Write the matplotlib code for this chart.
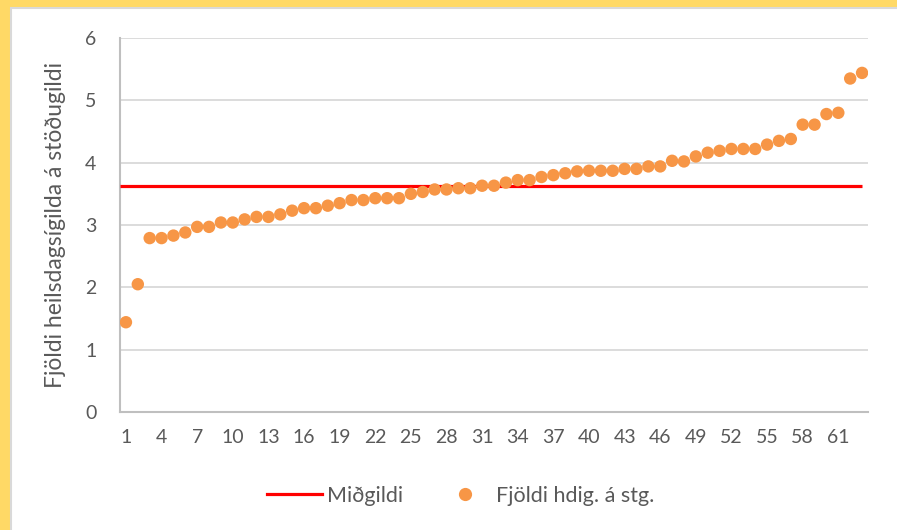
import matplotlib.pyplot as plt
from matplotlib.patches import Rectangle
from matplotlib.lines import Line2D

# values, sorted ascending (63 units)
stod = [1.44, 2.05, 2.79, 2.79, 2.83, 2.88, 2.97, 2.97, 3.04, 3.04,
        3.09, 3.13, 3.13, 3.17, 3.23, 3.27, 3.27, 3.31, 3.35, 3.40,
        3.40, 3.43, 3.43, 3.43, 3.50, 3.53, 3.57, 3.57, 3.59, 3.59,
        3.63, 3.63, 3.68, 3.72, 3.72, 3.77, 3.80, 3.83, 3.86, 3.87,
        3.87, 3.87, 3.90, 3.90, 3.94, 3.94, 4.03, 4.02, 4.10, 4.16,
        4.19, 4.22, 4.22, 4.22, 4.29, 4.35, 4.38, 4.61, 4.61, 4.78,
        4.80, 5.35, 5.44]
midgildi = 3.62
nr = list(range(1, len(stod) + 1))
xticks = list(range(1, 62, 3))
yticks = [0, 1, 2, 3, 4, 5, 6]

TXT = '#595959'
FONT = 'Lato'

fig = plt.figure(figsize=(8.97, 5.30), dpi=100)
fig.patch.set_facecolor('#FFD966')
# white panel inside the yellow frame
fig.patches.append(Rectangle((11 / 897, -0.01), 1.0, 1 - 8 / 530 + 0.01,
                             transform=fig.transFigure, facecolor='white',
                             edgecolor='#D9D9D9', linewidth=1.5, zorder=-5))

ax = fig.add_axes([120 / 897, 1 - 412 / 530, (868 - 120) / 897, (412 - 38) / 530])
ax.set_facecolor('none')

ax.plot([0.5, nr[-1]], [midgildi, midgildi], color='#FF0000', lw=2.3,
        solid_capstyle='butt', zorder=3)
ax.scatter(nr, stod, s=80, color='#F79646', edgecolors='none', zorder=4)

ax.set_xlim(0.5, len(stod) + 0.5)
ax.set_ylim(0, 6)
ax.set_xticks(xticks)
ax.set_yticks(yticks)
ax.tick_params(length=0, labelsize=14, labelcolor=TXT, pad=12)
for lab in ax.get_xticklabels() + ax.get_yticklabels():
    lab.set_fontfamily(FONT)
ax.tick_params(axis='y', pad=17)

ax.grid(axis='y', color='#D9D9D9', lw=1.3)
ax.set_axisbelow(True)
for s in ['top', 'right']:
    ax.spines[s].set_visible(False)
for s in ['left', 'bottom']:
    ax.spines[s].set_color('#BFBFBF')
    ax.spines[s].set_linewidth(1.5)

ax.set_ylabel('Fjöldi heilsdagsígilda á stöðugildi', fontsize=16.5,
              color=TXT, fontfamily=FONT, labelpad=14)

handles = [Line2D([], [], color='#FF0000', lw=2.3),
           Line2D([], [], marker='o', ls='none', color='#F79646',
                  markersize=9.5, markeredgewidth=0)]
leg = fig.legend(handles, ['Miðgildi', 'Fjöldi hdig. á stg.'],
                 loc='center', bbox_to_anchor=(461 / 897, 1 - 496 / 530),
                 ncol=2, frameon=False, handlelength=2.55, handletextpad=0.2,
                 columnspacing=1.6, prop={'family': FONT, 'size': 15.5})
for t in leg.get_texts():
    t.set_color(TXT)

fig.savefig('out.png', dpi=100, facecolor=fig.get_facecolor())
